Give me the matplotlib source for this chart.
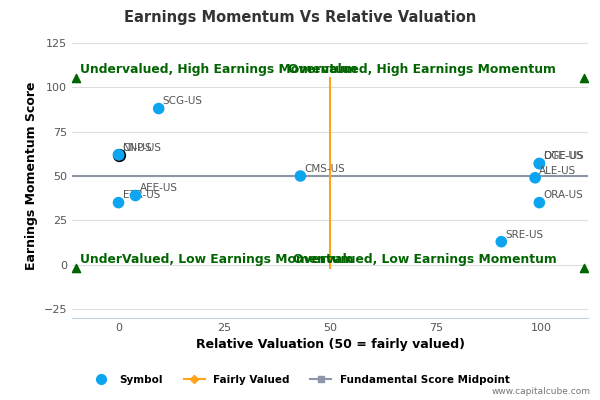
import matplotlib
matplotlib.use("Agg")
import matplotlib.pyplot as plt
from matplotlib.lines import Line2D

symbols = ["SCG-US", "CNP-US", "NI-US", "CMS-US", "ETR-US", "AEE-US", "OGE-US", "DTE-US", "ALE-US", "ORA-US", "SRE-US"]
valuation = [9.5, 0, 0, 43, 0, 4, 99.5, 99.5, 98.5, 99.5, 90.5]
momentum = [88, 62, 62, 50, 35, 39, 57, 57, 49, 35, 13]
highlight = "CNP-US"
corner_x = [-10, 110, -10, 110]
corner_y = [105, 105, -2, -2]
corner_text = ["Undervalued, High Earnings Momentum", "Overvalued, High Earnings Momentum",
               "UnderValued, Low Earnings Momentum", "Overvalued, Low Earnings Momentum"]

fig = plt.figure(figsize=(6, 4), dpi=100)
ax = fig.add_axes([0.12, 0.205, 0.86, 0.71])
ax.set_xlim(-11, 111)
ax.set_ylim(-30, 130)
blue = "#0ea5f0"
ax.plot([-11, 111], [50, 50], color="#8d96a8", lw=1.5, zorder=1)
ax.plot([50, 50], [-2, 105], color="#ffa31a", lw=1.5, zorder=1)
for s, x, y in zip(symbols, valuation, momentum):
    ec = "black" if s == highlight else "none"
    ax.scatter(x, y, s=70, color=blue, edgecolors=ec, linewidths=1.2, zorder=3)
    ax.annotate(s, (x, y), xytext=(3, 3), textcoords="offset points", fontsize=7.5, color="#555555")
ax.scatter(corner_x, corner_y, marker="^", color="#006400", s=35, zorder=3)
for x, y, t in zip(corner_x, corner_y, corner_text):
    if x < 50:
        ax.text(x + 1, y + 1.5, t, color="#006400", fontsize=8.9, fontweight="bold", ha="left", va="bottom")
    else:
        ax.text(x - 6.5, y + 1.5, t, color="#006400", fontsize=8.9, fontweight="bold", ha="right", va="bottom")
ax.set_xticks([0, 25, 50, 75, 100])
ax.set_yticks([-25, 0, 25, 50, 75, 100, 125])
ax.tick_params(labelsize=8, colors="#555555", length=0)
ax.grid(axis="y", color="#dddddd", lw=0.8)
ax.set_axisbelow(True)
for sp in ["top", "right", "left"]:
    ax.spines[sp].set_visible(False)
ax.spines["bottom"].set_color("#c0d0e0")
ax.set_xlabel("Relative Valuation (50 = fairly valued)", fontsize=9, fontweight="bold")
ax.set_ylabel("Earnings Momentum Score", fontsize=9, fontweight="bold")
fig.suptitle("Earnings Momentum Vs Relative Valuation", y=0.975, fontsize=10.5, fontweight="bold", color="#333333")
handles = [Line2D([], [], marker="o", color=blue, ls="none", markersize=7),
           Line2D([], [], marker="D", color="#ffa31a", markersize=4),
           Line2D([], [], marker="s", color="#8d96a8", markersize=5)]
fig.legend(handles, ["Symbol", "Fairly Valued", "Fundamental Score Midpoint"], loc="lower center",
           bbox_to_anchor=(0.5, 0.015), ncol=3, frameon=False, prop={"size": 7.5, "weight": "bold"})
fig.text(0.985, 0.015, "www.capitalcube.com", ha="right", fontsize=6.5, color="#777777")
fig.savefig("out.png")
